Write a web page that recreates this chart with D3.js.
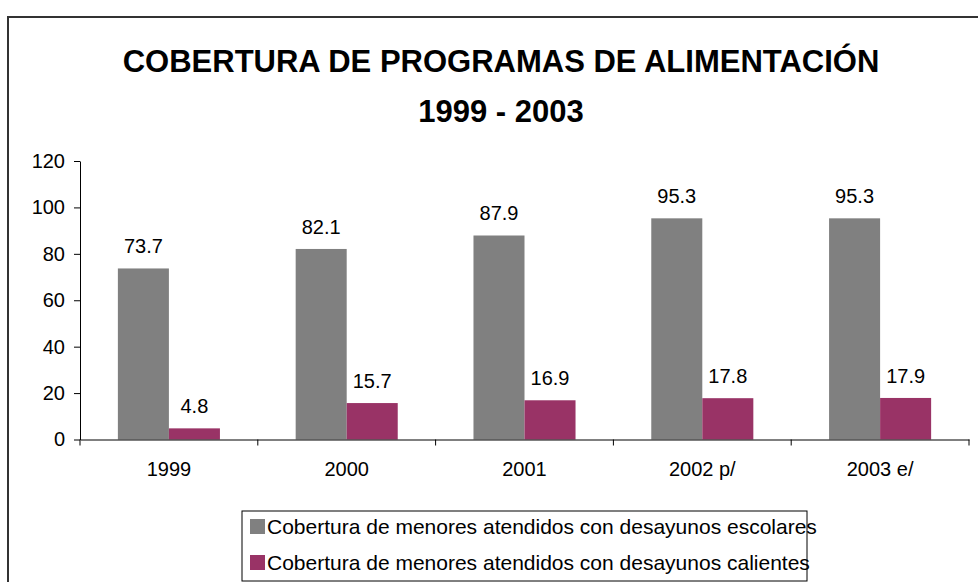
<!DOCTYPE html>
<html>
<head>
<meta charset="utf-8">
<script src="https://cdn.jsdelivr.net/npm/d3@7"></script>
<style>
  html, body { margin: 0; padding: 0; background: #fff; }
  svg { display: block; font-family: "Liberation Sans", Arial, sans-serif; }
</style>
</head>
<body>
<div id="chart"></div>
<script>
// Cobertura de programas de alimentación 1999 - 2003
const years = ["1999", "2000", "2001", "2002 p/", "2003 e/"];
const escolares = [73.7, 82.1, 87.9, 95.3, 95.3];
const calientes = [4.8, 15.7, 16.9, 17.8, 17.9];
const seriesNames = [
  "Cobertura de menores atendidos con desayunos escolares",
  "Cobertura de menores atendidos con desayunos calientes",
];
const seriesColors = ["#808080", "#993366"];
const yTicks = [0, 20, 40, 60, 80, 100, 120];

(function () {
  const width = 978;
  const height = 582;

  const svg = d3
    .select("#chart")
    .append("svg")
    .attr("width", width)
    .attr("height", height);

  // outer frame
  svg
    .append("rect")
    .attr("x", 8)
    .attr("y", 17)
    .attr("width", width + 10)
    .attr("height", height + 10)
    .attr("fill", "none")
    .attr("stroke", "#333")
    .attr("stroke-width", 2);

  // title
  const title = svg.append("g").attr("font-weight", "bold").attr("font-size", 31).attr("text-anchor", "middle");
  title.append("text").attr("x", 501).attr("y", 72).text("COBERTURA DE PROGRAMAS DE ALIMENTACIÓN");
  title.append("text").attr("x", 501).attr("y", 122).text("1999 - 2003");

  const plot = { left: 80, right: 969, top: 161, bottom: 439.5 };

  const x = d3.scaleBand().domain(years).range([plot.left, plot.right]).padding(0);
  const y = d3.scaleLinear().domain([0, 120]).range([plot.bottom, plot.top]);

  const barW = x.bandwidth() * 0.287;
  const xs = d3
    .scaleBand()
    .domain(d3.range(seriesNames.length))
    .range([x.bandwidth() / 2 - barW, x.bandwidth() / 2 + barW]);

  const rows = years.map((yr, i) => ({ year: yr, values: [escolares[i], calientes[i]] }));

  const groups = svg
    .append("g")
    .selectAll("g")
    .data(rows)
    .join("g")
    .attr("transform", (d) => `translate(${x(d.year)},0)`);

  groups
    .selectAll("rect")
    .data((d) => d.values.map((v, k) => ({ v, k })))
    .join("rect")
    .attr("x", (d) => xs(d.k))
    .attr("y", (d) => y(d.v))
    .attr("width", xs.bandwidth())
    .attr("height", (d) => y(0) - y(d.v))
    .attr("fill", (d) => seriesColors[d.k]);

  groups
    .selectAll("text")
    .data((d) => d.values.map((v, k) => ({ v, k })))
    .join("text")
    .attr("x", (d) => xs(d.k) + xs.bandwidth() / 2)
    .attr("y", (d) => y(d.v) - 15)
    .attr("text-anchor", "middle")
    .attr("font-size", 20)
    .attr("fill", "#000")
    .text((d) => d.v.toFixed(1));

  // y axis
  const yAxis = svg
    .append("g")
    .attr("transform", `translate(${plot.left},0)`)
    .call(d3.axisLeft(y).tickValues(yTicks).tickSize(6).tickPadding(9).tickSizeOuter(0));
  yAxis.select(".domain").attr("stroke", "#000");
  yAxis.selectAll(".tick line").attr("stroke", "#000");
  yAxis.selectAll("text").attr("font-size", 20).attr("font-family", null).attr("fill", "#000");

  // x axis
  const xAxis = svg
    .append("g")
    .attr("transform", `translate(0,${plot.bottom})`)
    .call(d3.axisBottom(x).tickSize(0).tickPadding(22).tickSizeOuter(0));
  xAxis.select(".domain").attr("stroke", "#000");
  xAxis.selectAll("text").attr("font-size", 20).attr("font-family", null).attr("fill", "#000");

  // category boundary ticks
  const bounds = years.map((yr) => x(yr)).concat([plot.right]);
  xAxis
    .selectAll(".bound")
    .data(bounds)
    .join("line")
    .attr("class", "bound")
    .attr("x1", (d) => d)
    .attr("x2", (d) => d)
    .attr("y1", 0)
    .attr("y2", 6)
    .attr("stroke", "#000");

  // legend
  const legend = svg.append("g").attr("transform", "translate(242,511)");
  legend
    .append("rect")
    .attr("width", 565)
    .attr("height", 70)
    .attr("fill", "#fff")
    .attr("stroke", "#000")
    .attr("stroke-width", 1);

  const items = legend
    .selectAll("g.item")
    .data(seriesNames)
    .join("g")
    .attr("class", "item")
    .attr("transform", (d, i) => `translate(8,${8 + i * 36})`);

  items
    .append("rect")
    .attr("width", 15)
    .attr("height", 15)
    .attr("fill", (d, i) => seriesColors[i]);

  items
    .append("text")
    .attr("x", 17)
    .attr("y", 15)
    .attr("font-size", 21)
    .attr("fill", "#000")
    .text((d) => d);
})();
</script>
</body>
</html>
